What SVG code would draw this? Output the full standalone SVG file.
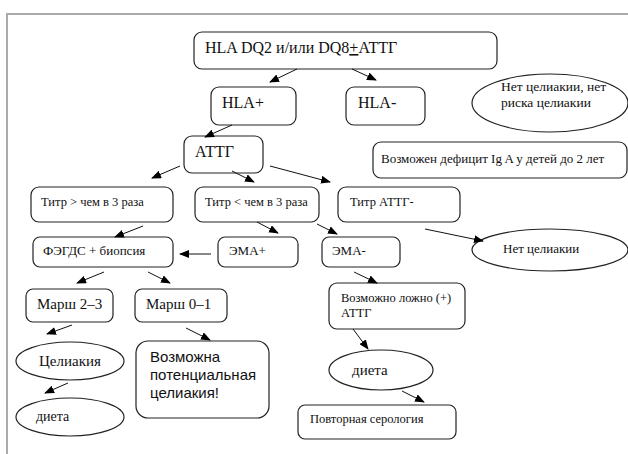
<svg xmlns="http://www.w3.org/2000/svg" width="628" height="454" viewBox="0 0 628 454">
<defs>
<marker id="ah" markerWidth="10" markerHeight="8" refX="9" refY="4" orient="auto" markerUnits="userSpaceOnUse">
<path d="M0,0 L10,4 L0,8 Z" fill="#000"/>
</marker>
</defs>
<style>
.b{fill:#fff;stroke:#222;stroke-width:1.2}
.t{font-family:"Liberation Serif","Times New Roman",serif;fill:#111}
.s{font-family:"Liberation Sans",Arial,sans-serif;fill:#111}
.c{stroke:#111;stroke-width:1;fill:none;marker-end:url(#ah)}
</style>
<rect width="628" height="454" fill="#fff"/>
<path d="M7,454 V14 H628" fill="none" stroke="#aaa" stroke-width="2"/>

<g id="top"><rect class="b" x="194" y="32" width="303" height="37" rx="8"/><text class="t" x="205" y="53" font-size="16">HLA DQ2 и/или DQ8<tspan text-decoration="underline">+</tspan>АТТГ</text></g>
<g id="hlap"><rect class="b" x="211" y="87" width="85" height="38" rx="8"/><text class="t" x="222" y="108" font-size="16">HLA+</text></g>
<g id="hlam"><rect class="b" x="346" y="87" width="79" height="38" rx="8"/><text class="t" x="358" y="108" font-size="16">HLA-</text></g>
<g id="norisk"><ellipse class="b" cx="550" cy="103" rx="78" ry="29"/><text class="t" x="501" y="91" font-size="13.5">Нет целиакии, нет</text><text class="t" x="501" y="107" font-size="13.5">риска целиакии</text></g>
<g id="attg"><rect class="b" x="184" y="136" width="79" height="37" rx="8"/><text class="t" x="195" y="157" font-size="16">АТТГ</text></g>
<g id="iga"><rect class="b" x="373" y="142" width="254" height="36" rx="8"/><text class="t" x="381" y="163" font-size="13">Возможен дефицит Ig A у детей до 2 лет</text></g>
<g id="tgt"><rect class="b" x="31" y="187" width="142" height="35" rx="8"/><text class="t" x="41" y="206" font-size="12.5">Титр &gt; чем в 3 раза</text></g>
<g id="tlt"><rect class="b" x="195" y="187" width="124" height="35" rx="8"/><text class="t" x="205" y="206" font-size="12.5">Титр &lt; чем в 3 раза</text></g>
<g id="tneg"><rect class="b" x="338" y="187" width="122" height="35" rx="8"/><text class="t" x="350" y="206" font-size="12.5">Титр АТТГ-</text></g>
<g id="noceliac"><ellipse class="b" cx="550" cy="250" rx="78" ry="21"/><text class="t" x="503" y="253" font-size="13">Нет целиакии</text></g>
<g id="fegds"><rect class="b" x="33" y="237" width="140" height="30" rx="7"/><text class="t" x="43" y="255" font-size="13">ФЭГДС + биопсия</text></g>
<g id="emap"><rect class="b" x="218" y="237" width="80" height="30" rx="7"/><text class="t" x="229" y="255" font-size="13">ЭМА+</text></g>
<g id="emam"><rect class="b" x="322" y="237" width="78" height="30" rx="7"/><text class="t" x="332" y="255" font-size="13">ЭМА-</text></g>
<g id="m23"><rect class="b" x="26" y="289" width="87" height="33" rx="7"/><text class="t" x="37" y="309" font-size="15">Марш 2–3</text></g>
<g id="m01"><rect class="b" x="135" y="289" width="92" height="33" rx="7"/><text class="t" x="146" y="309" font-size="15">Марш 0–1</text></g>
<g id="false"><rect class="b" x="329" y="283" width="136" height="46" rx="8"/><text class="t" x="341" y="302" font-size="12.5">Возможно ложно (+)</text><text class="t" x="341" y="317" font-size="12.5">АТТГ</text></g>
<g id="celiac"><ellipse class="b" cx="70" cy="361" rx="54" ry="19"/><text class="t" x="39" y="366" font-size="15">Целиакия</text></g>
<g id="potential"><rect class="b" x="136" y="341" width="133" height="77" rx="12"/><text class="s" x="150" y="362" font-size="15">Возможна</text><text class="s" x="150" y="380" font-size="15">потенциальная</text><text class="s" x="150" y="398" font-size="15">целиакия!</text></g>
<g id="diet2"><ellipse class="b" cx="381" cy="370" rx="52" ry="20"/><text class="t" x="352" y="375" font-size="15">диета</text></g>
<g id="diet1"><ellipse class="b" cx="70" cy="417" rx="54" ry="19"/><text class="t" x="36" y="421" font-size="14">диета</text></g>
<g id="sero"><rect class="b" x="298" y="405" width="158" height="34" rx="7"/><text class="t" x="310" y="423" font-size="12.5">Повторная серология</text></g>

<g id="connectors">
<line class="c" x1="297" y1="69" x2="270" y2="82"/>
<line class="c" x1="352" y1="69" x2="376" y2="80"/>
<line class="c" x1="232" y1="125" x2="205" y2="137"/>
<line class="c" x1="180" y1="166" x2="152" y2="178"/>
<line class="c" x1="232" y1="171" x2="254" y2="182"/>
<line class="c" x1="270" y1="166" x2="330" y2="182"/>
<line class="c" x1="143" y1="226" x2="115" y2="237"/>
<line class="c" x1="257" y1="222" x2="278" y2="233"/>
<line class="c" x1="317" y1="224" x2="337" y2="234"/>
<line class="c" x1="425" y1="229" x2="483" y2="241"/>
<line class="c" x1="211" y1="254" x2="180" y2="254"/>
<line class="c" x1="104" y1="272" x2="77" y2="283"/>
<line class="c" x1="148" y1="272" x2="170" y2="283"/>
<line class="c" x1="354" y1="272" x2="377" y2="283"/>
<line class="c" x1="72" y1="325" x2="47" y2="334"/>
<line class="c" x1="186" y1="328" x2="210" y2="340"/>
<line class="c" x1="353" y1="329" x2="368" y2="349"/>
<line class="c" x1="68" y1="383" x2="45" y2="393"/>
<line class="c" x1="402" y1="391" x2="424" y2="402"/>
</g>
</svg>
